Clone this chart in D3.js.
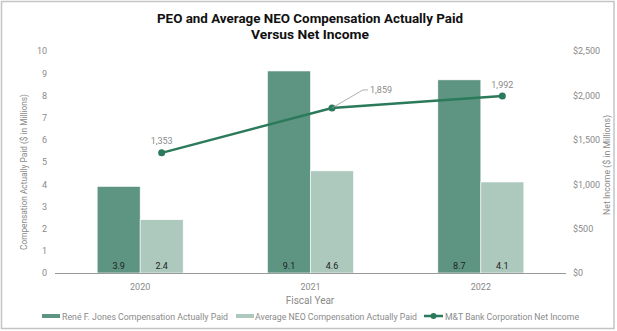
<!DOCTYPE html>
<html><head><meta charset="utf-8">
<script src="https://cdn.jsdelivr.net/npm/d3@7"></script>
<style>
body{margin:0;background:#fff;}
svg{display:block;font-family:Roboto, "Noto Sans", sans-serif;}
</style></head>
<body><svg id="c" width="617" height="331"></svg>
<script>
const years = ["2020","2021","2022"];
const peoCAP = [3.9, 9.1, 8.7];
const neoCAP = [2.4, 4.6, 4.1];
const netIncome = [1353, 1859, 1992];
const leftTicks = [0,1,2,3,4,5,6,7,8,9,10];
const rightTicks = [0,500,1000,1500,2000,2500];
const seriesNames = ["René F. Jones Compensation Actually Paid","Average NEO Compensation Actually Paid","M&T Bank Corporation Net Income"];

const C_DARK="#5e9482", C_LIGHT="#adc8bd", C_LINE="#2b7a5c", C_TXT="#8a8a8a";
const svg=d3.select("#c");
svg.append("rect").attr("x",1.5).attr("y",1.5).attr("width",612.5).attr("height",327).attr("fill","#fff").attr("stroke","#c4c4c4").attr("stroke-width",1.5);

svg.append("text").attr("x",310).attr("y",23).attr("text-anchor","middle").attr("font-size",13.5).attr("font-weight","bold").attr("fill","#111")
  .attr("textLength",306).attr("lengthAdjust","spacingAndGlyphs").text("PEO and Average NEO Compensation Actually Paid");
svg.append("text").attr("x",310).attr("y",39).attr("text-anchor","middle").attr("font-size",13.5).attr("font-weight","bold").attr("fill","#111")
  .attr("textLength",118).attr("lengthAdjust","spacingAndGlyphs").text("Versus Net Income");

const x0=55,x1=566,yB=273,yT=51;
const x=d3.scaleBand().domain(years).range([x0,x1]);
const y=d3.scaleLinear().domain([0,10]).range([yB,yT]);
const yR=d3.scaleLinear().domain([0,2500]).range([yB,yT]);
const bw=43;

const g=svg.append("g");
years.forEach((yr,i)=>{
  const cx=x(yr)+x.bandwidth()/2;
  g.append("rect").attr("x",cx-bw).attr("y",y(peoCAP[i])).attr("width",bw).attr("height",yB-y(peoCAP[i])).attr("fill",C_DARK).attr("stroke","#fff").attr("stroke-width",0.6);
  g.append("rect").attr("x",cx).attr("y",y(neoCAP[i])).attr("width",bw).attr("height",yB-y(neoCAP[i])).attr("fill",C_LIGHT).attr("stroke","#fff").attr("stroke-width",0.6);
  g.append("text").attr("x",cx-bw/2).attr("y",269).attr("text-anchor","middle").attr("font-size",9).attr("fill","#222").text(peoCAP[i].toFixed(1));
  g.append("text").attr("x",cx+bw/2).attr("y",269).attr("text-anchor","middle").attr("font-size",9).attr("fill","#222").text(neoCAP[i].toFixed(1));
});

svg.append("line").attr("x1",x0).attr("x2",x1).attr("y1",yB+0.5).attr("y2",yB+0.5).attr("stroke","#999").attr("stroke-width",1);

const la=svg.append("g").attr("transform",`translate(47,0)`).call(d3.axisLeft(y).tickValues(leftTicks).tickSize(0).tickPadding(0).tickFormat(d3.format("d")));
la.select(".domain").remove();
la.selectAll("text").attr("font-size",9).attr("fill",C_TXT).attr("font-family","Roboto, sans-serif");
const ra=svg.append("g").attr("transform",`translate(573,0)`).call(d3.axisRight(yR).tickValues(rightTicks).tickSize(0).tickPadding(0).tickFormat(d=>"$"+d3.format(",")(d)));
ra.select(".domain").remove();
ra.selectAll("text").attr("font-size",9).attr("fill",C_TXT).attr("font-family","Roboto, sans-serif");

const xa=svg.append("g").attr("transform",`translate(0,${yB+6})`).call(d3.axisBottom(x).tickSize(0).tickPadding(5));
xa.select(".domain").remove();
xa.selectAll("text").attr("font-size",9).attr("fill",C_TXT).attr("font-family","Roboto, sans-serif");

svg.append("text").attr("x",310).attr("y",304).attr("text-anchor","middle").attr("font-size",10).attr("fill",C_TXT).text("Fiscal Year");
svg.append("text").attr("transform","translate(27,172) rotate(-90)").attr("text-anchor","middle").attr("font-size",9).attr("fill",C_TXT)
  .attr("textLength",156).attr("lengthAdjust","spacingAndGlyphs").text("Compensation Actually Paid ($ in Millions)");
svg.append("text").attr("transform","translate(610,165) rotate(-90)").attr("text-anchor","middle").attr("font-size",9).attr("fill",C_TXT)
  .attr("textLength",100).attr("lengthAdjust","spacingAndGlyphs").text("Net Income ($ in Millions)");

const px=(yr)=>x(yr)+x.bandwidth()/2+bw/2;
const pts=years.map((yr,i)=>[px(yr),yR(netIncome[i])]);
svg.append("path").attr("d",d3.line()(pts)).attr("fill","none").attr("stroke",C_LINE).attr("stroke-width",2.5);
svg.selectAll(".pt").data(pts).enter().append("circle").attr("cx",d=>d[0]).attr("cy",d=>d[1]).attr("r",3.5).attr("fill",C_LINE);
const fmt=d3.format(",");
svg.append("text").attr("x",pts[0][0]).attr("y",pts[0][1]-9).attr("text-anchor","middle").attr("font-size",9).attr("fill",C_TXT).text(fmt(netIncome[0]));
svg.append("polyline").attr("points",`${pts[1][0]},${pts[1][1]} ${pts[1][0]+31},${pts[1][1]-18} ${pts[1][0]+36},${pts[1][1]-18}`).attr("fill","none").attr("stroke","#999").attr("stroke-width",0.8);
svg.append("text").attr("x",pts[1][0]+38).attr("y",pts[1][1]-15).attr("text-anchor","start").attr("font-size",9).attr("fill",C_TXT).text(fmt(netIncome[1]));
svg.append("text").attr("x",pts[2][0]).attr("y",pts[2][1]-8).attr("text-anchor","middle").attr("font-size",9).attr("fill",C_TXT).text(fmt(netIncome[2]));

const lg=svg.append("g").attr("font-size",8.6).attr("fill",C_TXT);
lg.append("rect").attr("x",42).attr("y",314).attr("width",18).attr("height",4).attr("fill",C_DARK);
lg.append("text").attr("x",62).attr("y",319.5).attr("textLength",166).attr("lengthAdjust","spacingAndGlyphs").text(seriesNames[0]);
lg.append("rect").attr("x",236).attr("y",314).attr("width",18).attr("height",4).attr("fill",C_LIGHT);
lg.append("text").attr("x",255).attr("y",319.5).attr("textLength",162).attr("lengthAdjust","spacingAndGlyphs").text(seriesNames[1]);
lg.append("line").attr("x1",424).attr("x2",443).attr("y1",316).attr("y2",316).attr("stroke",C_LINE).attr("stroke-width",2.5);
lg.append("circle").attr("cx",433.5).attr("cy",316).attr("r",3).attr("fill",C_LINE);
lg.append("text").attr("x",445).attr("y",319.5).attr("textLength",134).attr("lengthAdjust","spacingAndGlyphs").text(seriesNames[2]);
</script></body></html>
